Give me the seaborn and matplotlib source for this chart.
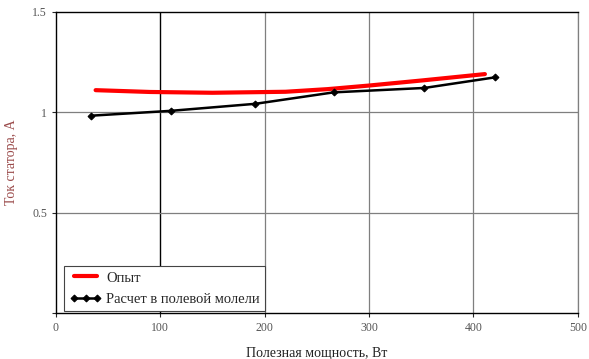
import numpy as np
import pandas as pd
import matplotlib
matplotlib.use("Agg")
import matplotlib.pyplot as plt
import seaborn as sns

# Data
exp_power = [38, 90, 150, 220, 260, 300, 350, 411]
exp_current = [1.110, 1.101, 1.097, 1.102, 1.115, 1.133, 1.158, 1.190]

calc_power = [34, 110, 191, 266, 353, 421]
calc_current = [0.983, 1.007, 1.042, 1.099, 1.121, 1.174]

x_ticks = [0, 100, 200, 300, 400, 500]
y_ticks = [0.5, 1, 1.5]

sns.set_style("white")
plt.rcParams["font.family"] = ["Liberation Serif", "DejaVu Serif"]

fig = plt.figure(figsize=(5.89, 3.59), dpi=100)
ax = fig.add_axes([0.095, 0.128, 0.886, 0.839])

# grid lines like the Mathcad original
for xv in x_ticks[2:]:
    ax.axvline(xv, color="#7f7f7f", lw=0.9, zorder=0)
ax.axvline(100, color="black", lw=1.0, zorder=0)
for yv in [0.5, 1]:
    ax.axhline(yv, color="#7f7f7f", lw=0.9, zorder=0)

exp_df = pd.DataFrame({"P": exp_power, "I": exp_current})
calc_df = pd.DataFrame({"P": calc_power, "I": calc_current})

sns.lineplot(data=exp_df, x="P", y="I", color="#ff0000", lw=3, ax=ax,
             label="Опыт", sort=False)
sns.lineplot(data=calc_df, x="P", y="I", color="black", lw=1.8, marker="D",
             markersize=3.5, markeredgecolor="black", ax=ax,
             label="Расчет в полевой молели", sort=False)

ax.set_xlim(0, 500)
ax.set_ylim(0, 1.5)
ax.set_xticks(x_ticks)
ax.set_yticks([0] + y_ticks)
ax.set_yticklabels([""] + ["0.5", "1", "1.5"])
ax.tick_params(axis="both", labelsize=8.5, labelcolor="#555555", length=3,
               width=0.8, direction="out", left=True, bottom=True)

for side in ["left", "bottom", "top"]:
    ax.spines[side].set_color("black")
    ax.spines[side].set_linewidth(1.0)
ax.spines["right"].set_color("#7f7f7f")
ax.spines["right"].set_linewidth(0.9)

ax.set_xlabel("Полезная мощность, Вт", fontsize=10, color="#222222", labelpad=9)
ax.set_ylabel("Ток статора, А", fontsize=10, color="#9a4a4a", labelpad=10)

leg = ax.legend(loc="lower left", bbox_to_anchor=(0.012, 0.0), fontsize=10.5,
                frameon=True, fancybox=False, framealpha=1, edgecolor="#444444",
                handlelength=2.2, handletextpad=0.3, borderpad=0.35,
                labelspacing=0.55, numpoints=3, borderaxespad=0.15)
leg.get_frame().set_linewidth(0.8)

fig.savefig("out.png", dpi=100)
